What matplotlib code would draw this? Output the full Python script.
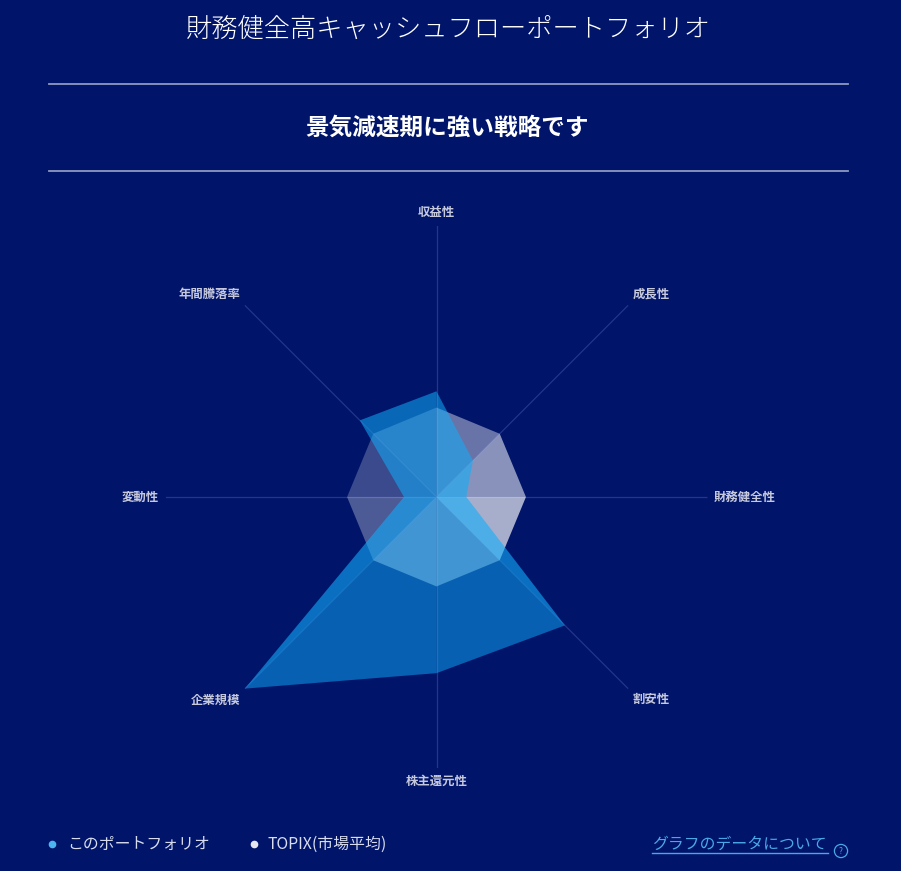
import numpy as np
import matplotlib
matplotlib.use('Agg')
import matplotlib.pyplot as plt
from matplotlib.lines import Line2D

plt.rcParams['font.family'] = ['Noto Sans CJK JP', 'DejaVu Sans']

# chart data
title = '財務健全高キャッシュフローポートフォリオ'
subtitle = '景気減速期に強い戦略です'
categories = ['収益性', '成長性', '財務健全性', '割安性', '株主還元性', '企業規模', '変動性', '年間騰落率']
portfolio = [39, 19, 11, 67, 65, 100, 12, 40]
topix = [33, 33, 33, 33, 33, 33, 33, 33]
legend_labels = ['このポートフォリオ', 'TOPIX(市場平均)']
link_text = 'グラフのデータについて'

bg = '#00146A'
label_color = '#C6C9DC'
spoke_color = '#24368A'

# per-wedge shading (wedge i sits between axis i and axis i+1)
topix_alpha = [0.41, 0.54, 0.66, 0.45, 0.45, 0.30, 0.23, 0.28]
port_color = '#11ADFA'
port_alpha = [0.55, 0.60, 0.60, 0.50, 0.50, 0.60, 0.55, 0.55]

W, H = 901, 871
fig = plt.figure(figsize=(W / 100, H / 100), dpi=100, facecolor=bg)

# radar axes: centre (436.5, 497) px, radius 271 px
cx, cy, rad = 436.5, 497, 271
ax = fig.add_axes([(cx - rad) / W, (H - cy - rad) / H, 2 * rad / W, 2 * rad / H],
                  projection='polar')
ax.set_facecolor('none')
ax.set_theta_zero_location('N')
ax.set_theta_direction(-1)
ax.set_ylim(0, 100)
ax.grid(False)
ax.spines['polar'].set_visible(False)
ax.set_xticks([])
ax.set_yticks([])

n = len(categories)
theta = np.arange(n) * 2 * np.pi / n

for t in theta:
    ax.plot([t, t], [0, 100], color=spoke_color, lw=0.9, zorder=1)


def draw_wedges(vals, color, alphas, z):
    for i in range(n):
        j = (i + 1) % n
        ax.fill([theta[i], theta[j], 0], [vals[i], vals[j], 0],
                color=color, alpha=alphas[i], lw=0, zorder=z)


draw_wedges(topix, 'white', topix_alpha, 2)
draw_wedges(portfolio, port_color, port_alpha, 3)

# axis labels
aligns = [('center', 'bottom'), ('left', 'bottom'), ('left', 'center'), ('left', 'top'),
          ('center', 'top'), ('right', 'top'), ('right', 'center'), ('right', 'bottom')]
for t, lab, (ha, va) in zip(theta, categories, aligns):
    ax.text(t, 102.5, lab, ha=ha, va=va, color=label_color, fontsize=8.9,
            fontweight='bold')

# header
fig.text(448.5 / W, 1 - 30 / H, title, ha='center', va='center', color='white',
         fontsize=18.9, fontweight='light')
fig.text(447.5 / W, 1 - 128 / H, subtitle, ha='center', va='center', color='white',
         fontsize=17, fontweight='bold')
for y in (84, 171):
    fig.add_artist(Line2D([49 / W, 848 / W], [1 - y / H, 1 - y / H],
                          color='#9098C0', lw=1.3))

# legend
fig.add_artist(Line2D([52 / W], [1 - 844 / H], marker='o', markersize=4.5,
                      color='#4CB4F0', lw=0))
fig.text(67 / W, 1 - 844 / H, legend_labels[0], ha='left', va='center',
         color='#D8DCEC', fontsize=11.4)
fig.add_artist(Line2D([254 / W], [1 - 844 / H], marker='o', markersize=4.5,
                      color='#E6E6EE', lw=0))
fig.text(268 / W, 1 - 844 / H, legend_labels[1], ha='left', va='center',
         color='#D8DCEC', fontsize=11.4)

# link
link_color = '#4AA8E8'
fig.text(652 / W, 1 - 844 / H, link_text, ha='left', va='center',
         color=link_color, fontsize=11.4)
fig.add_artist(Line2D([652 / W, 828 / W], [1 - 853 / H, 1 - 853 / H],
                      color=link_color, lw=1))
fig.text(841 / W, 1 - 851 / H, '?', ha='center', va='center', color=link_color,
         fontsize=6,
         bbox=dict(boxstyle='circle,pad=0.25', fc='none', ec=link_color, lw=0.9))

fig.savefig('out.png', dpi=100, facecolor=bg)
